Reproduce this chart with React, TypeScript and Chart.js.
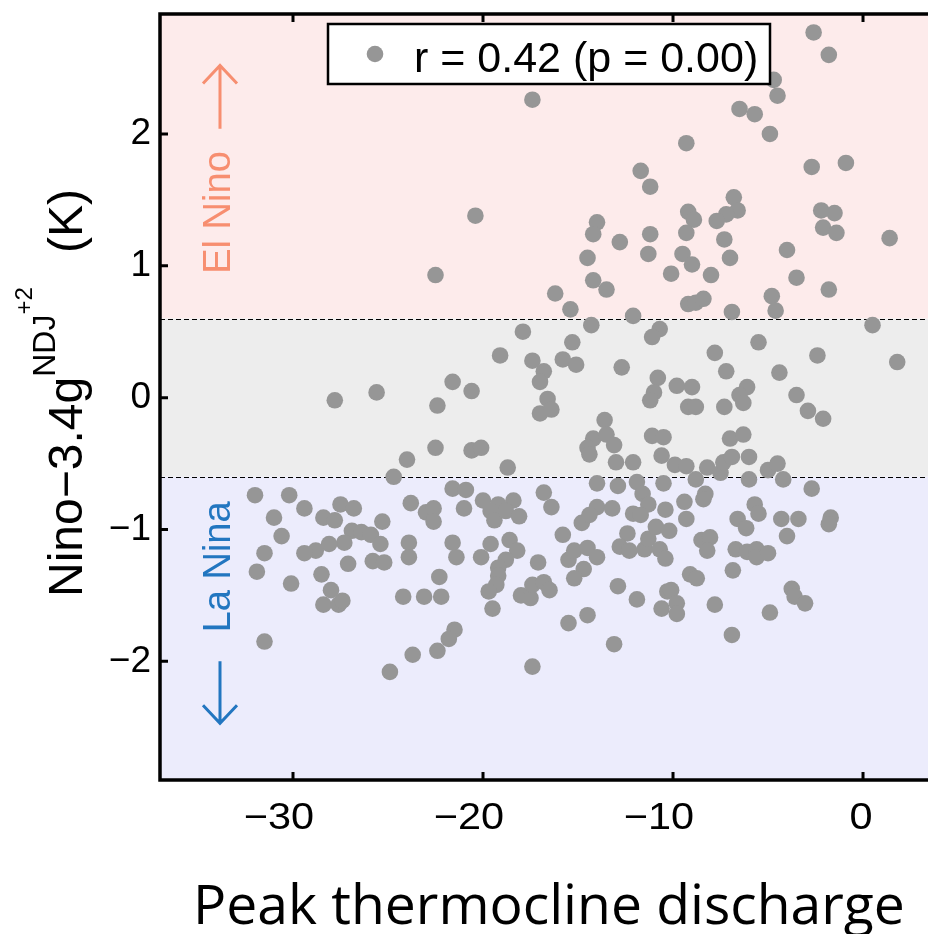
import React, { useEffect, useRef } from "react";
import { Chart, registerables } from "chart.js";

Chart.register(...registerables);

// Peak thermocline discharge (x) and Nino-3.4 NDJ+2 anomaly (y, K)
const dischargeX: number[] = [
  -27.8, -25.6, -24.0, -24.7,
  -32.0, -30.2, -29.4, -31.0, -30.6, -31.5, -31.9, -30.1, -31.5, -27.5, -26.8, -28.4, -27.8, -25.3, -26.9, -26.4,
  -25.9, -27.3, -25.4, -28.1, -28.8, -29.4, -23.9, -23.9, -23.8, -27.1, -25.8, -25.2, -28.5, -28.0, -28.4, -27.6,
  -27.4, -24.2, -23.7, -24.9,
  -11.2, -20.4, -14.0, -14.2, -12.8, -11.2, -11.3, -10.1, -14.5, -22.5, -14.2, -13.5, -16.2, -15.4, -12.1, -14.3,
  -17.9, -15.3, -10.7, -11.1, -19.1, -17.4, -15.8, -15.1, -16.8, -17.0, -12.7, -10.8, -11.0, -11.2, -21.6, -20.6,
  -22.4, -16.6, -17.0, -16.4, -13.6, -14.2, -13.5, -14.5, -14.4, -13.1, -13.0, -12.1, -11.1, -10.5, -10.6, -22.5,
  -20.6, -20.1, -18.7, -14.0, -12.9, -11.9, -10.5, -21.6, -20.9, -16.8, -18.4,
  -23.0, -22.6, -22.6, -21.0, -20.0, -19.2, -19.6, -19.4, -18.8, -18.1, -16.4, -21.6, -21.4, -22.3, -23.1, -22.2,
  -20.1, -19.6, -18.6, -18.2, -18.8, -19.2, -19.2, -19.3, -19.7, -19.5, -17.1, -18.0, -17.5, -17.4, -16.8, -16.5,
  -21.5, -21.8, -22.4, -17.4, -15.8, -14.8, -14.0, -14.4, -13.2, -11.6, -11.3, -12.1, -11.7, -10.4, -15.5, -15.2,
  -14.5, -14.0, -14.7, -15.2, -12.4, -12.8, -12.3, -11.5, -11.3, -10.9, -10.7, -10.4, -12.9, -11.9, -10.6, -10.3,
  -15.5, -14.5, -13.1,
  -2.6, -1.8, -4.7, -4.5, -6.5, -5.7, -4.9, -9.3, -2.7, -0.9, -6.8, -6.6, -7.2, -7.7, -9.2, -8.9,
  -9.3, -7.3, -9.5, -9.0, -7.0, -8.0, -4.0, -3.5, -1.8, -2.2, -1.5, -2.1, -1.4, 1.4, -9.2, -8.8,
  -8.4, -6.9, -4.8, -4.6, 0.5, -17.4, -11.7,
  1.8, -5.5, -7.8, -2.4, -7.2, -4.4, -9.8, -9.0, -6.1, -6.5, -6.3, -7.3, -9.2, -8.8, -3.5, -2.9,
  -2.1, -7.0, -6.3, -9.9, -9.3, -8.2, -7.5, -7.35, -6.9, -6.0, -5.0, -4.5, -4.2, -6.0, -8.8, -2.7,
  -8.3, -8.4, -9.4, -5.7, -5.5, -6.6, -4.3, -3.4, -1.7, -9.3,
  -6.15, -1.8, -4.0, -10.2, -8.5, -8.05, -8.2, -6.7, -6.1, -5.6, -5.6, -5.0, -6.85, -9.1, -8.75, -10.1,
  -9.8, -9.8, -7.8, -3.75, -3.6, -3.05, -4.9, -6.9,
];

const ninoY: number[] = [
  -0.02, 0.04, -0.47, -0.60,
  -0.74, -0.74, -0.84, -0.91, -1.05, -1.18, -1.32, -1.41, -1.85, -0.81, -0.84, -0.91, -0.93, -0.94, -1.01, -1.02,
  -1.04, -1.10, -1.11, -1.11, -1.16, -1.18, -1.10, -1.21, -0.80, -1.26, -1.24, -1.25, -1.34, -1.46, -1.57, -1.57,
  -1.54, -1.51, -1.95, -2.08,
  1.60, 1.38, 1.33, 1.24, 1.18, 1.24, 1.09, 0.94, 1.06, 0.93, 0.89, 0.82, 0.79, 0.67, 0.62, 0.55,
  0.50, 0.42, 0.52, 0.46, 0.32, 0.28, 0.29, 0.25, 0.20, 0.12, 0.23, 0.15, 0.04, -0.02, 0.12, 0.05,
  -0.06, -0.01, -0.12, -0.09, -0.17, -0.31, -0.28, -0.38, -0.43, -0.36, -0.49, -0.49, -0.29, -0.30, -0.44, -0.38,
  -0.40, -0.38, -0.53, -0.65, -0.67, -0.64, -0.65, -0.69, -0.70, -0.72, -0.78,
  -0.87, -0.84, -0.94, -0.84, -0.78, -0.81, -0.86, -0.93, -0.86, -0.90, -0.83, -1.10, -1.21, -1.36, -1.51, -1.51,
  -1.21, -1.11, -1.08, -1.16, -1.23, -1.29, -1.35, -1.42, -1.47, -1.60, -1.25, -1.50, -1.52, -1.42, -1.40, -1.46,
  -1.76, -1.83, -1.92, -2.04, -1.04, -0.95, -0.83, -0.89, -0.84, -0.73, -0.81, -0.88, -0.89, -0.85, -1.23, -1.16,
  -1.14, -1.21, -1.30, -1.37, -1.03, -1.13, -1.16, -1.15, -1.07, -0.98, -1.15, -1.22, -1.43, -1.53, -1.60, -1.47,
  -1.71, -1.65, -1.87,
  2.77, 2.60, 2.41, 2.29, 2.19, 2.15, 2.00, 1.93, 1.75, 1.78, 1.52, 1.42, 1.39, 1.34, 1.41, 1.35,
  1.25, 1.20, 1.09, 1.01, 1.06, 0.93, 1.12, 0.91, 0.82, 1.42, 1.40, 1.29, 1.25, 1.21, 0.71, 0.72,
  0.75, 0.65, 0.77, 0.66, 0.55, 2.26, 1.72,
  0.27, 0.42, 0.34, 0.32, 0.20, 0.19, 0.09, 0.08, 0.08, 0.02, -0.04, -0.07, -0.07, -0.07, 0.02, -0.10,
  -0.16, -0.31, -0.28, -0.51, -0.52, -0.53, -0.57, -0.49, -0.45, -0.45, -0.55, -0.50, -0.62, -0.62, -0.62, -0.69,
  -0.73, -0.77, -0.79, -0.81, -0.88, -0.92, -0.92, -0.92, -0.91, -0.92,
  -0.99, -0.96, -1.05, -1.01, -1.08, -1.06, -1.16, -1.15, -1.17, -1.15, -1.21, -1.18, -1.31, -1.34, -1.37, -1.46,
  -1.56, -1.64, -1.57, -1.45, -1.51, -1.56, -1.63, -1.80,
];

const xTickValues: number[] = [-30, -20, -10, 0];
const yTickValues: number[] = [-2, -1, 0, 1, 2];
const X_MIN = -37;
const X_MAX = 3.42;
const Y_MIN = -2.9;
const Y_MAX = 2.91;
const ENSO_THRESHOLD = 0.6;
const legendLabel = "r = 0.42 (p = 0.00)";
const xTitle = "Peak thermocline discharge";

const SANS = '"Liberation Sans", Arial, Helvetica, sans-serif';
const POINT_COLOR = "rgb(150,150,150)";

const fmt = (v: number) => (v < 0 ? "\u2212" + Math.abs(v) : String(v));

const decorPlugin = {
  id: "decor",
  beforeDatasetsDraw(chart: any) {
    const { ctx, chartArea: a, scales } = chart;
    const y = scales.y;
    const yHi = y.getPixelForValue(ENSO_THRESHOLD);
    const yLo = y.getPixelForValue(-ENSO_THRESHOLD);
    ctx.save();
    ctx.fillStyle = "rgb(253,235,235)";
    ctx.fillRect(a.left, a.top, a.right - a.left, yHi - a.top);
    ctx.fillStyle = "rgb(237,237,237)";
    ctx.fillRect(a.left, yHi, a.right - a.left, yLo - yHi);
    ctx.fillStyle = "rgb(236,236,252)";
    ctx.fillRect(a.left, yLo, a.right - a.left, a.bottom - yLo);

    ctx.strokeStyle = "#000";
    ctx.lineWidth = 1.1;
    ctx.setLineDash([5, 3]);
    for (const yy of [yHi, yLo]) {
      ctx.beginPath();
      ctx.moveTo(a.left, Math.round(yy) + 0.5);
      ctx.lineTo(a.right, Math.round(yy) + 0.5);
      ctx.stroke();
    }
    ctx.setLineDash([]);

    // El Nino label + arrow
    const salmon = "rgb(247,142,112)";
    const blue = "rgb(34,118,192)";
    const tx = a.left + 70;
    const ax = a.left + 60;
    ctx.font = `38px ${SANS}`;
    ctx.textAlign = "left";
    ctx.textBaseline = "alphabetic";

    ctx.save();
    ctx.translate(tx, y.getPixelForValue(0.94));
    ctx.rotate(-Math.PI / 2);
    ctx.fillStyle = salmon;
    ctx.fillText("El Nino", 0, 0);
    ctx.restore();

    ctx.strokeStyle = salmon;
    ctx.lineWidth = 3;
    const eTip = y.getPixelForValue(2.52);
    const eBase = y.getPixelForValue(2.04);
    ctx.beginPath();
    ctx.moveTo(ax, eBase);
    ctx.lineTo(ax, eTip);
    ctx.moveTo(ax - 17, eTip + 18);
    ctx.lineTo(ax, eTip);
    ctx.lineTo(ax + 17, eTip + 18);
    ctx.stroke();

    // La Nina label + arrow
    ctx.save();
    ctx.translate(tx, y.getPixelForValue(-1.78));
    ctx.rotate(-Math.PI / 2);
    ctx.fillStyle = blue;
    ctx.fillText("La Nina", 0, 0);
    ctx.restore();

    ctx.strokeStyle = blue;
    const lTip = y.getPixelForValue(-2.47);
    const lBase = y.getPixelForValue(-2.0);
    ctx.beginPath();
    ctx.moveTo(ax, lBase);
    ctx.lineTo(ax, lTip);
    ctx.moveTo(ax - 17, lTip - 18);
    ctx.lineTo(ax, lTip);
    ctx.lineTo(ax + 17, lTip - 18);
    ctx.stroke();
    ctx.restore();
  },
  afterDraw(chart: any) {
    const { ctx, chartArea: a, scales } = chart;
    const x = scales.x;
    const y = scales.y;
    ctx.save();
    // frame
    ctx.strokeStyle = "#000";
    ctx.lineWidth = 3.5;
    ctx.beginPath();
    ctx.moveTo(a.right + 2, a.top);
    ctx.lineTo(a.left, a.top);
    ctx.lineTo(a.left, a.bottom);
    ctx.lineTo(a.right + 2, a.bottom);
    ctx.stroke();
    // inward ticks
    ctx.lineWidth = 3;
    ctx.beginPath();
    for (const v of yTickValues) {
      const py = y.getPixelForValue(v);
      ctx.moveTo(a.left, py);
      ctx.lineTo(a.left + 8, py);
    }
    for (const v of xTickValues) {
      const px = x.getPixelForValue(v);
      ctx.moveTo(px, a.bottom);
      ctx.lineTo(px, a.bottom - 8);
      ctx.moveTo(px, a.top);
      ctx.lineTo(px, a.top + 8);
    }
    ctx.stroke();

    // x tick labels (slightly wide face, as in the source figure)
    ctx.fillStyle = "#000";
    ctx.font = `37px ${SANS}`;
    ctx.textAlign = "center";
    ctx.textBaseline = "alphabetic";
    for (const v of xTickValues) {
      const px = x.getPixelForValue(v);
      ctx.save();
      ctx.translate(v < 0 ? px - 14 : px - 2, a.bottom + 49);
      ctx.scale(1.12, 1);
      ctx.fillText(fmt(v), 0, 0);
      ctx.restore();
    }

    // legend box
    ctx.fillStyle = "#fff";
    ctx.fillRect(328, 24, 442, 60);
    ctx.lineWidth = 2.5;
    ctx.strokeRect(328, 24, 442, 60);
    ctx.fillStyle = POINT_COLOR;
    ctx.beginPath();
    ctx.arc(375, 54, 8.3, 0, Math.PI * 2);
    ctx.fill();
    ctx.fillStyle = "#000";
    ctx.font = `43px ${SANS}`;
    ctx.textAlign = "left";
    ctx.textBaseline = "alphabetic";
    ctx.fillText(legendLabel, 414, 72);

    // y-axis title (rotated)
    ctx.save();
    ctx.translate(82, 597);
    ctx.rotate(-Math.PI / 2);
    let cx = 0;
    ctx.font = `48px ${SANS}`;
    const main = "Nino\u22123.4g";
    ctx.fillText(main, 0, 0);
    cx += ctx.measureText(main).width;
    ctx.font = `32px ${SANS}`;
    ctx.fillText("NDJ", cx, -27);
    cx += ctx.measureText("NDJ").width;
    ctx.font = `24px ${SANS}`;
    ctx.fillText("+2", cx, -50);
    ctx.font = `48px ${SANS}`;
    ctx.fillText("(K)", 344, 0);
    ctx.restore();

    // x-axis title
    ctx.font = `100px "Open Sans", sans-serif`;
    const w100 = ctx.measureText(xTitle).width;
    const size = (100 * 712) / w100;
    ctx.font = `${size}px "Open Sans", sans-serif`;
    ctx.fillStyle = "#000";
    ctx.fillText(xTitle, 193, 924);
    ctx.restore();
  },
};

export default function App() {
  const ref = useRef<HTMLCanvasElement | null>(null);
  useEffect(() => {
    if (!ref.current) return;
    const points = dischargeX.map((xv, i) => ({ x: xv, y: ninoY[i] }));
    const chart = new Chart(ref.current, {
      type: "scatter",
      data: {
        datasets: [
          {
            data: points,
            pointRadius: 8.3,
            pointHoverRadius: 8.3,
            backgroundColor: POINT_COLOR,
            borderWidth: 0,
          },
        ],
      },
      options: {
        responsive: false,
        animation: false,
        devicePixelRatio: 1,
        events: [],
        layout: { autoPadding: false, padding: { top: 14, left: 0, right: 0, bottom: 0 } },
        plugins: { legend: { display: false }, tooltip: { enabled: false } },
        scales: {
          x: {
            type: "linear",
            min: X_MIN,
            max: X_MAX,
            border: { display: false },
            grid: { display: false, drawTicks: false },
            afterBuildTicks: (s: any) => {
              s.ticks = xTickValues.map((v) => ({ value: v }));
            },
            ticks: { display: false },
            afterFit: (s: any) => {
              s.height = 154;
              s.paddingLeft = 0;
              s.paddingRight = 0;
              s.paddingTop = 0;
              s.paddingBottom = 0;
            },
          },
          y: {
            type: "linear",
            min: Y_MIN,
            max: Y_MAX,
            border: { display: false },
            grid: { display: false, drawTicks: false },
            afterBuildTicks: (s: any) => {
              s.ticks = yTickValues.map((v) => ({ value: v }));
            },
            ticks: {
              color: "#000",
              font: { family: SANS, size: 37 },
              padding: 9,
              autoSkip: false,
              callback: (v: any) => fmt(Number(v)),
            },
            afterFit: (s: any) => {
              s.width = 160;
              s.paddingLeft = 0;
              s.paddingRight = 0;
              s.paddingTop = 0;
              s.paddingBottom = 0;
            },
          },
        },
      },
      plugins: [decorPlugin],
    } as any);
    return () => chart.destroy();
  }, []);
  return (
    <div style={{ position: "absolute", left: 0, top: 0, width: 928, height: 934, background: "#fff" }}>
      <canvas ref={ref} width={928} height={934} style={{ display: "block" }} />
    </div>
  );
}
